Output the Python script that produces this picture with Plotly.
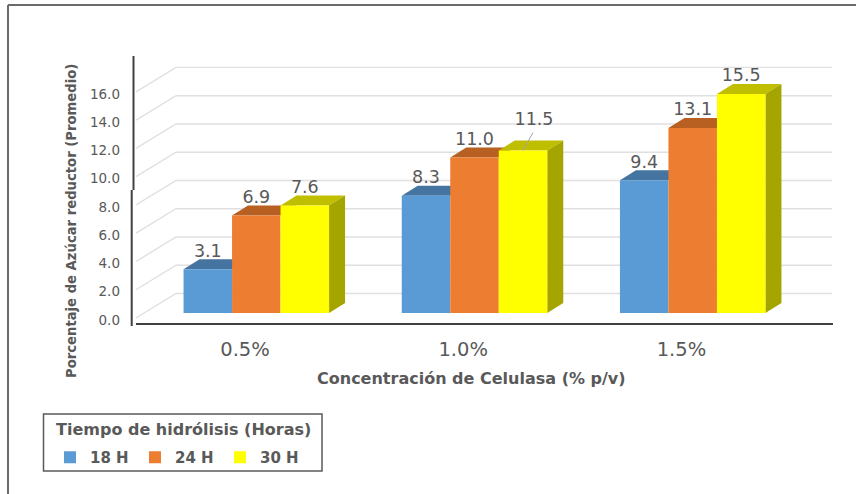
import plotly.graph_objects as go

categories = ["0.5%", "1.0%", "1.5%"]
series_names = ["18 H", "24 H", "30 H"]
values_18 = [3.1, 8.3, 9.4]
values_24 = [6.9, 11.0, 13.1]
values_30 = [7.6, 11.5, 15.5]
y_ticks = [0, 2, 4, 6, 8, 10, 12, 14, 16]

W, H = 856, 494
L, R, T, B = 132, 834, 56, 325      # plot area in page pixels
PX_Y = 14.13                        # pixels per value unit
PX_X = 218.2                        # pixels per category
Y0 = 320                            # pixel row of value 0 on the axis
X0 = 245                            # pixel column of the first category


def dx(p):
    return p / PX_X


def dy(p):
    return p / PX_Y


y_range = [-(B - Y0) / PX_Y, (Y0 - T) / PX_Y]
x_range = [(L - X0) / PX_X, (R - X0) / PX_X]


def px(x):
    return (x - L) / (R - L)


def py(y):
    return (B - y) / (B - T)


TEXT = "#595959"
GRID = "#e0e0e0"
FONT = "DejaVu Sans"
front = ["#5b9bd5", "#ed7d31", "#ffff00"]
top = ["#44749f", "#b85f22", "#bfbf00"]
side = ["#3c6690", "#a5561f", "#a5a500"]

bar_w = dx(48.5)
bar_shift = dx(11.3)
base = dy(7)
dep_x, dep_y = dx(16), dy(10)
wall_x, wall_y = dx(38), dy(26.5)
floor_rise = dy(2)
wall_start = dx(4)
all_values = [values_18, values_24, values_30]

fig = go.Figure()

# floor and back wall gridlines, from the value ticks
for t in y_ticks:
    fig.add_trace(go.Scatter(
        x=[x_range[0] + wall_start, x_range[0] + wall_x + dx(6), x_range[1] - dx(2)],
        y=[t + floor_rise, t + wall_y, t + wall_y],
        mode="lines", line=dict(color=GRID, width=1.4),
        showlegend=False, hoverinfo="skip"))

# top and side faces
for s, vals in enumerate(all_values):
    off = (s - 1) * bar_w + bar_shift
    for i, v in enumerate(vals):
        x1 = i + off - bar_w / 2
        x2 = i + off + bar_w / 2
        yt = base + v
        fig.add_trace(go.Scatter(
            x=[x1, x2, x2 + dep_x, x1 + dep_x, x1],
            y=[yt, yt, yt + dep_y, yt + dep_y, yt],
            mode="lines", fill="toself", fillcolor=top[s],
            line=dict(width=0), showlegend=False, hoverinfo="skip"))
        if s == 2:
            fig.add_trace(go.Scatter(
                x=[x2, x2 + dep_x, x2 + dep_x, x2, x2],
                y=[base, base + dep_y, yt + dep_y, yt, base],
                mode="lines", fill="toself", fillcolor=side[s],
                line=dict(width=0), showlegend=False, hoverinfo="skip"))

# front faces, on an overlaid subplot so they sit above the depth faces
for s, vals in enumerate(all_values):
    off = (s - 1) * bar_w + bar_shift
    fig.add_trace(go.Bar(
        x=[i + off for i in range(len(categories))],
        y=vals, base=base, width=bar_w, name=series_names[s],
        marker=dict(color=front[s], line=dict(width=0)),
        xaxis="x2", yaxis="y2"))

# data labels
label_x, label_y, label_t = [], [], []
for s, vals in enumerate(all_values):
    off = (s - 1) * bar_w + bar_shift
    for i, v in enumerate(vals):
        moved = s == 2 and i == 1
        lx = i + off + (dx(11) if moved else 0)
        ly = base + v + dy(30 if moved else 17)
        label_x.append(lx)
        label_y.append(ly)
        label_t.append(f"{v:.1f}")
        if moved:
            fig.add_trace(go.Scatter(
                x=[i + off, lx - dx(1)], y=[base + v, ly - dy(12)],
                mode="lines", line=dict(color="#a6a6a6", width=1),
                xaxis="x2", yaxis="y2", showlegend=False, hoverinfo="skip"))
fig.add_trace(go.Scatter(
    x=label_x, y=label_y, text=label_t, mode="text",
    textposition="middle center",
    textfont=dict(family=FONT, size=17.5, color=TEXT),
    xaxis="x2", yaxis="y2", showlegend=False, hoverinfo="skip"))

frame = dict(color="#6a6a6a", width=2)
axis = dict(color="#404040", width=2)
shapes = [
    dict(type="line", xref="paper", yref="paper", x0=px(8), x1=px(8), y0=py(5), y1=py(494), line=frame),
    dict(type="line", xref="paper", yref="paper", x0=px(8), x1=px(856), y0=py(5), y1=py(5), line=frame),
    dict(type="line", xref="paper", yref="paper", x0=px(133.5), x1=px(133.5), y0=py(56), y1=py(190), line=axis),
    dict(type="line", xref="paper", yref="paper", x0=px(131.7), x1=px(131.7), y0=py(190), y1=py(326), line=axis),
    dict(type="line", xref="paper", yref="paper", x0=px(136), x1=px(833), y0=py(324), y1=py(324), line=axis),
    dict(type="rect", xref="paper", yref="paper", x0=px(43.5), x1=px(322), y0=py(414), y1=py(471),
         line=dict(color="#595959", width=1.5), fillcolor="white"),
]

annotations = [
    dict(text="<b>Concentración de Celulasa (% p/v)</b>", xref="paper", yref="paper",
         x=px(471), y=py(378), xanchor="center", yanchor="middle", showarrow=False,
         font=dict(family=FONT, size=16, color=TEXT)),
    dict(text="<b>Porcentaje de Azúcar reductor (Promedio)</b>", xref="paper", yref="paper",
         x=px(71), y=py(221), xanchor="center", yanchor="middle", showarrow=False, textangle=-90,
         font=dict(family=FONT, size=13.2, color=TEXT)),
    dict(text="<b>Tiempo de hidrólisis (Horas)</b>", xref="paper", yref="paper",
         x=px(183), y=py(429), xanchor="center", yanchor="middle", showarrow=False,
         font=dict(family=FONT, size=16, color=TEXT)),
]

fig.update_layout(
    width=W, height=H,
    margin=dict(l=L, r=W - R, t=T, b=H - B),
    paper_bgcolor="white", plot_bgcolor="white",
    barmode="overlay",
    font=dict(family=FONT, color=TEXT),
    shapes=shapes,
    annotations=annotations,
    xaxis=dict(range=x_range, tickmode="array", tickvals=list(range(len(categories))),
               ticktext=categories, showgrid=False, zeroline=False, showline=False,
               ticks="", ticklabelstandoff=10,
               tickfont=dict(family=FONT, size=19.5, color=TEXT)),
    yaxis=dict(range=y_range, tickmode="array", tickvals=y_ticks,
               ticktext=[f"{t:.1f}" for t in y_ticks], showgrid=False, zeroline=False,
               showline=False, ticks="", ticklabelstandoff=11,
               tickfont=dict(family=FONT, size=13.5, color=TEXT)),
    xaxis2=dict(range=x_range, overlaying="x", visible=False),
    yaxis2=dict(range=y_range, overlaying="y", visible=False),
    legend=dict(
        orientation="h", xanchor="left", yanchor="top",
        x=px(50), y=py(441),
        borderwidth=0, bgcolor="rgba(0,0,0,0)",
        font=dict(family=FONT, size=15, color=TEXT, weight="bold"),
        entrywidth=40, itemwidth=30,
    ),
)

fig.write_html("out.html", post_script="document.body.style.margin='0';",
               config=dict(displayModeBar=False))
